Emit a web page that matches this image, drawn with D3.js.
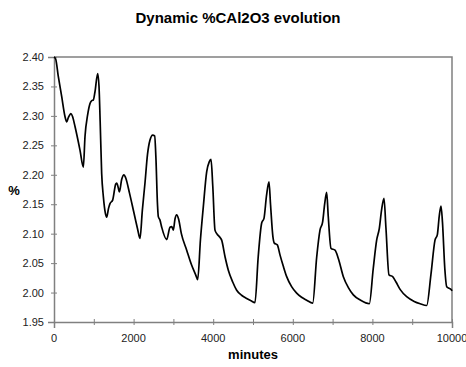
<!DOCTYPE html>
<html>
<head>
<meta charset="utf-8">
<script src="https://cdn.jsdelivr.net/npm/d3@7"></script>
<style>
  body { margin: 0; background: #fff; }
  text { font-family: Arial, "Liberation Sans", sans-serif; }
</style>
</head>
<body>
<script>
// minutes / %CAl2O3
const minutes = [
  0, 40, 108, 193, 276, 319, 360, 427, 470, 528, 653, 737, 779, 846, 905, 950, 988, 1030, 1097, 1131,
  1160, 1198, 1240, 1290, 1323, 1370, 1407, 1474, 1550, 1575, 1615, 1642, 1700, 1759, 1800, 1900,
  2000, 2100, 2161, 2220, 2286, 2350, 2412, 2480, 2529, 2560, 2600, 2621, 2663, 2706, 2831, 2915,
  2957, 2998, 3040, 3082, 3130, 3200, 3334, 3450, 3560, 3610, 3680, 3752, 3836, 3900, 3945, 3990,
  4045, 4100, 4154, 4213, 4300, 4380, 4490, 4590, 4720, 4841, 4950, 5050, 5130, 5218, 5276, 5340,
  5402, 5440, 5500, 5535, 5611, 5678, 5760, 5846, 5970, 6097, 6220, 6349, 6500, 6600, 6683, 6750,
  6800, 6851, 6890, 6960, 7060, 7144, 7270, 7400, 7521, 7700, 7923, 8020, 8107, 8174, 8230, 8291,
  8340, 8417, 8510, 8593, 8700, 8861, 9050, 9200, 9364, 9470, 9573, 9631, 9680, 9724, 9760, 9820,
  9867, 9933, 9992, 10000
];
const percent = [
  2.400, 2.397, 2.367, 2.333, 2.299, 2.290, 2.297, 2.304, 2.298, 2.282, 2.242, 2.213, 2.265, 2.302, 2.321, 2.326, 2.327, 2.341, 2.372, 2.350,
  2.290, 2.202, 2.163, 2.135, 2.128, 2.143, 2.151, 2.157, 2.184, 2.186, 2.178, 2.171, 2.192, 2.200, 2.195, 2.168,
  2.138, 2.108, 2.092, 2.140, 2.186, 2.235, 2.259, 2.2675, 2.266, 2.230, 2.150, 2.129, 2.123, 2.111, 2.090, 2.111,
  2.112, 2.106, 2.125, 2.132, 2.125, 2.100, 2.072, 2.048, 2.030, 2.022, 2.090, 2.146, 2.205, 2.222, 2.226, 2.180,
  2.106, 2.099, 2.095, 2.089, 2.060, 2.038, 2.018, 2.004, 1.995, 1.990, 1.986, 1.983, 2.060, 2.118, 2.126, 2.165,
  2.188, 2.150, 2.095, 2.084, 2.081, 2.064, 2.045, 2.027, 2.010, 1.999, 1.992, 1.987, 1.982, 2.060, 2.106, 2.120,
  2.150, 2.170, 2.130, 2.075, 2.072, 2.058, 2.027, 2.008, 1.996, 1.987, 1.981, 2.040, 2.089, 2.109, 2.140, 2.160,
  2.110, 2.030, 2.027, 2.018, 2.005, 1.993, 1.985, 1.981, 1.978, 2.030, 2.089, 2.098, 2.130, 2.147, 2.120, 2.040,
  2.010, 2.007, 2.004, 2.003
];
const xTicks = [0, 1000, 2000, 3000, 4000, 5000, 6000, 7000, 8000, 9000, 10000];
const xLabels = [0, 2000, 4000, 6000, 8000, 10000];
const yTicks = [1.95, 2.00, 2.05, 2.10, 2.15, 2.20, 2.25, 2.30, 2.35, 2.40];

const title = "Dynamic %CAl2O3 evolution";
const xTitle = "minutes";
const yTitle = "%";

(()=>{
    const width = 466;
    const height = 367;
    const marginTop = 57;
    const marginRight = 14;
    const marginBottom = 45;
    const marginLeft = 54;
    const axisColor = "#808080";

    const data = minutes.map((m, i) => ({t: m, v: percent[i]}));

    const x = d3.scaleLinear()
    .domain([0, 10000])
    .range([marginLeft, width - marginRight]);

    const y = d3.scaleLinear()
    .domain([1.95, 2.40])
    .range([height - marginBottom, marginTop]);

    const svg = d3.create("svg")
    .attr("width", width)
    .attr("height", height)
    .attr("viewBox", [0, 0, width, height]);

    // plot frame (top + right)
    svg.append("path")
    .attr("d", `M${x(0)},${y(2.40)}H${x(10000)}V${y(1.95)}`)
    .attr("fill", "none")
    .attr("stroke", axisColor)
    .attr("stroke-width", 1.5);

    // x axis, ticks cross the line
    const gx = svg.append("g")
    .attr("transform", `translate(0,${y(1.95)})`)
    .call(d3.axisBottom(x).tickValues(xTicks).tickSize(6).tickFormat(""));
    gx.select(".domain").attr("stroke", axisColor).attr("stroke-width", 1.5);
    gx.selectAll(".tick line").attr("stroke", axisColor).attr("y1", -3).attr("y2", 3);

    svg.append("g")
    .selectAll("text")
    .data(xLabels)
    .join("text")
    .attr("x", d => x(d))
    .attr("y", y(1.95) + 20)
    .attr("text-anchor", "middle")
    .attr("font-size", 11)
    .attr("fill", "#222")
    .text(d => d);

    // y axis
    const gy = svg.append("g")
    .attr("transform", `translate(${x(0)},0)`)
    .call(d3.axisLeft(y).tickValues(yTicks).tickSize(6).tickFormat(d3.format(".2f")));
    gy.select(".domain").attr("stroke", axisColor).attr("stroke-width", 1.5);
    gy.selectAll(".tick line").attr("stroke", axisColor).attr("x1", -3).attr("x2", 3);
    gy.selectAll(".tick text")
    .attr("x", -10)
    .attr("font-size", 11)
    .attr("font-family", "Arial, 'Liberation Sans', sans-serif")
    .attr("fill", "#222");

    // the series
    const line = d3.line()
    .x(d => x(d.t))
    .y(d => y(d.v))
    .curve(d3.curveMonotoneX);

    svg.append("path")
    .datum(data)
    .attr("fill", "none")
    .attr("stroke", "#000")
    .attr("stroke-width", 1.7)
    .attr("stroke-linejoin", "round")
    .attr("d", line);

    // titles
    svg.append("text")
    .attr("x", 238)
    .attr("y", 23)
    .attr("text-anchor", "middle")
    .attr("font-size", 15)
    .attr("font-weight", "bold")
    .text(title);

    svg.append("text")
    .attr("x", (x(0) + x(10000)) / 2)
    .attr("y", 359)
    .attr("text-anchor", "middle")
    .attr("font-size", 13)
    .attr("font-weight", "bold")
    .text(xTitle);

    svg.append("text")
    .attr("x", 14)
    .attr("y", 195)
    .attr("text-anchor", "middle")
    .attr("font-size", 13)
    .attr("font-weight", "bold")
    .text(yTitle);

    d3.select("body").append(() => svg.node());
})();
</script>
</body>
</html>
